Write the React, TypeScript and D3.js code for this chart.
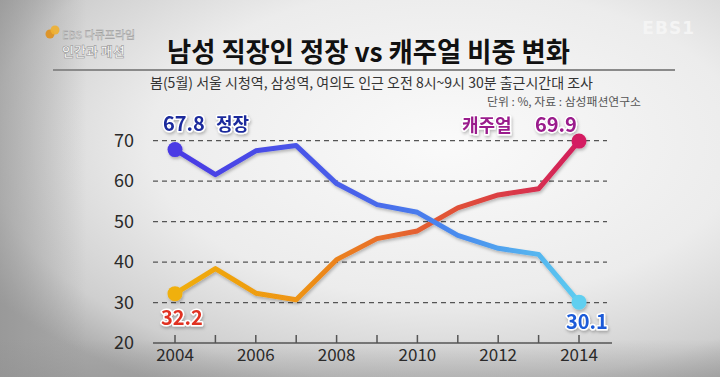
import React from 'react';
import * as d3 from 'd3';

const years = [2004, 2005, 2006, 2007, 2008, 2009, 2010, 2011, 2012, 2013, 2014];
const formal = [67.8, 61.6, 67.5, 68.8, 59.4, 54.2, 52.3, 46.6, 43.4, 41.9, 30.1];
const casual = [32.2, 38.4, 32.3, 30.7, 40.6, 45.8, 47.7, 53.4, 56.6, 58.1, 69.9];
const yTicks = [20, 30, 40, 50, 60, 70];
const xTickLabels = [2004, 2006, 2008, 2010, 2012, 2014];

const W = 720;
const H = 377;
const FONT = "'Noto Sans CJK KR', 'Noto Sans', sans-serif";

export default function App() {
  const x = d3.scaleLinear().domain([2004, 2014]).range([175, 579]);
  const y = d3.scaleLinear().domain([20, 70]).range([343, 140.7]);
  const line = d3
    .line<number>()
    .x((_, i) => x(years[i]))
    .y((d) => y(d));

  const outline = {
    stroke: '#ffffff',
    strokeWidth: 3,
    paintOrder: 'stroke' as const,
    strokeLinejoin: 'round' as const,
  };

  return (
    <svg
      width={W}
      height={H}
      style={{ position: 'absolute', left: 0, top: 0, display: 'block' }}
      fontFamily={FONT}
    >
      <defs>
        <radialGradient id="bg" cx="0.62" cy="0.38" r="0.75">
          <stop offset="0" stopColor="#fafafa" />
          <stop offset="0.55" stopColor="#ececec" />
          <stop offset="0.85" stopColor="#cfcfcf" />
          <stop offset="1" stopColor="#a9a9a9" />
        </radialGradient>
        <linearGradient id="leftShade" x1="0" x2="1" y1="0" y2="0">
          <stop offset="0" stopColor="#8c8c8c" stopOpacity="0.55" />
          <stop offset="0.12" stopColor="#8c8c8c" stopOpacity="0" />
        </linearGradient>
        <linearGradient id="bottomShade" x1="0" x2="0" y1="0" y2="1">
          <stop offset="0.9" stopColor="#909090" stopOpacity="0" />
          <stop offset="1" stopColor="#909090" stopOpacity="0.45" />
        </linearGradient>
        <linearGradient id="formalGrad" gradientUnits="userSpaceOnUse" x1={x(2004)} x2={x(2014)} y1="0" y2="0">
          <stop offset="0" stopColor="#4a3ae4" />
          <stop offset="0.45" stopColor="#4a62ea" />
          <stop offset="0.7" stopColor="#4a8cee" />
          <stop offset="1" stopColor="#5cccf0" />
        </linearGradient>
        <linearGradient id="casualGrad" gradientUnits="userSpaceOnUse" x1={x(2004)} x2={x(2014)} y1="0" y2="0">
          <stop offset="0" stopColor="#f0ae10" />
          <stop offset="0.3" stopColor="#ee9412" />
          <stop offset="0.5" stopColor="#e8702a" />
          <stop offset="0.7" stopColor="#e05038" />
          <stop offset="1" stopColor="#d21e5c" />
        </linearGradient>
        <filter id="shadow" x="-10%" y="-10%" width="120%" height="130%">
          <feDropShadow dx="1" dy="2" stdDeviation="1.5" floodColor="#000" floodOpacity="0.25" />
        </filter>
      </defs>

      <rect width={W} height={H} fill="url(#bg)" />
      <rect width={W} height={H} fill="url(#leftShade)" />
      <rect width={W} height={H} fill="url(#bottomShade)" />

      {/* logos */}
      <g>
        <circle cx={50} cy={34} r={4.5} fill="#e0901a" opacity={0.9} />
        <circle cx={55} cy={30} r={4.5} fill="#f0b030" opacity={0.9} />
        <text x={62} y={39} fontSize={11} fill="#ffffff" stroke="#9a9a9a" strokeWidth={0.5}>EBS 다큐프라임</text>
        <text x={62} y={56} fontSize={13} fontWeight={700} fill="#ffffff" stroke="#8a8a8a" strokeWidth={0.5}>인간과 패션</text>
      </g>
      <text x={695} y={34} textAnchor="end" fontSize={17} fontWeight={700} fill="#f4f4f4" fontFamily="'DejaVu Sans', sans-serif" letterSpacing={1}>EBS1</text>

      {/* title */}
      <text x={167} y={62} fontSize={27} fontWeight={700} fill="#111" textLength={403} lengthAdjust="spacingAndGlyphs">
        남성 직장인 정장 vs 캐주얼 비중 변화
      </text>
      <line x1={53} x2={675} y1={70} y2={70} stroke="#8a8a8a" strokeWidth={2} />
      <text x={150} y={87.5} fontSize={14} fill="#333" textLength={443} lengthAdjust="spacingAndGlyphs">
        봄(5월) 서울 시청역, 삼성역, 여의도 인근 오전 8시~9시 30분 출근시간대 조사
      </text>
      <text x={487} y={106} fontSize={11.5} fill="#555" textLength={154} lengthAdjust="spacingAndGlyphs">
        단위 : %, 자료 : 삼성패션연구소
      </text>

      {/* grid */}
      {yTicks.filter((t) => t > 20).map((t) => (
        <line key={t} x1={153} x2={607} y1={y(t)} y2={y(t)} stroke="#555" strokeWidth={1.3} strokeDasharray="5,4" />
      ))}
      {yTicks.map((t) => (
        <text key={t} x={134} y={y(t) + 6} textAnchor="end" fontSize={18} fill="#2a2a2a">
          {t}
        </text>
      ))}

      {/* x axis */}
      <line x1={153} x2={612} y1={y(20)} y2={y(20)} stroke="#555" strokeWidth={1.5} />
      {years.map((yr) => (
        <line key={yr} x1={x(yr)} x2={x(yr)} y1={y(20)} y2={y(20) - 8} stroke="#555" strokeWidth={1.5} />
      ))}
      {xTickLabels.map((yr) => (
        <text key={yr} x={x(yr)} y={361} textAnchor="middle" fontSize={17} fill="#2a2a2a">
          {yr}
        </text>
      ))}

      {/* lines */}
      <g filter="url(#shadow)">
        <path d={line(casual) || ''} fill="none" stroke="url(#casualGrad)" strokeWidth={5} strokeLinejoin="round" strokeLinecap="round" />
        <path d={line(formal) || ''} fill="none" stroke="url(#formalGrad)" strokeWidth={5} strokeLinejoin="round" strokeLinecap="round" />
        <circle cx={x(2004)} cy={y(formal[0])} r={7.5} fill="#4b3ae4" />
        <circle cx={x(2014)} cy={y(formal[10])} r={7.5} fill="#60cff0" />
        <circle cx={x(2004)} cy={y(casual[0])} r={7.5} fill="#f0b010" />
        <circle cx={x(2014)} cy={y(casual[10])} r={7.5} fill="#d41e62" />
      </g>

      {/* labels */}
      <g fontWeight={700} filter="url(#shadow)">
        <text x={163} y={131} fontSize={20} fill="#1a2a9c" {...outline}>67.8</text>
        <text x={216} y={131} fontSize={18} fill="#1a2a9c" {...outline}>정장</text>
        <text x={462} y={132} fontSize={18} fill="#9a1a8c" {...outline}>캐주얼</text>
        <text x={535} y={132} fontSize={20} fill="#9a1a8c" {...outline}>69.9</text>
        <text x={161} y={325} fontSize={20} fill="#e03020" {...outline}>32.2</text>
        <text x={566} y={329} fontSize={20} fill="#1a5ad8" {...outline}>30.1</text>
      </g>
    </svg>
  );
}
